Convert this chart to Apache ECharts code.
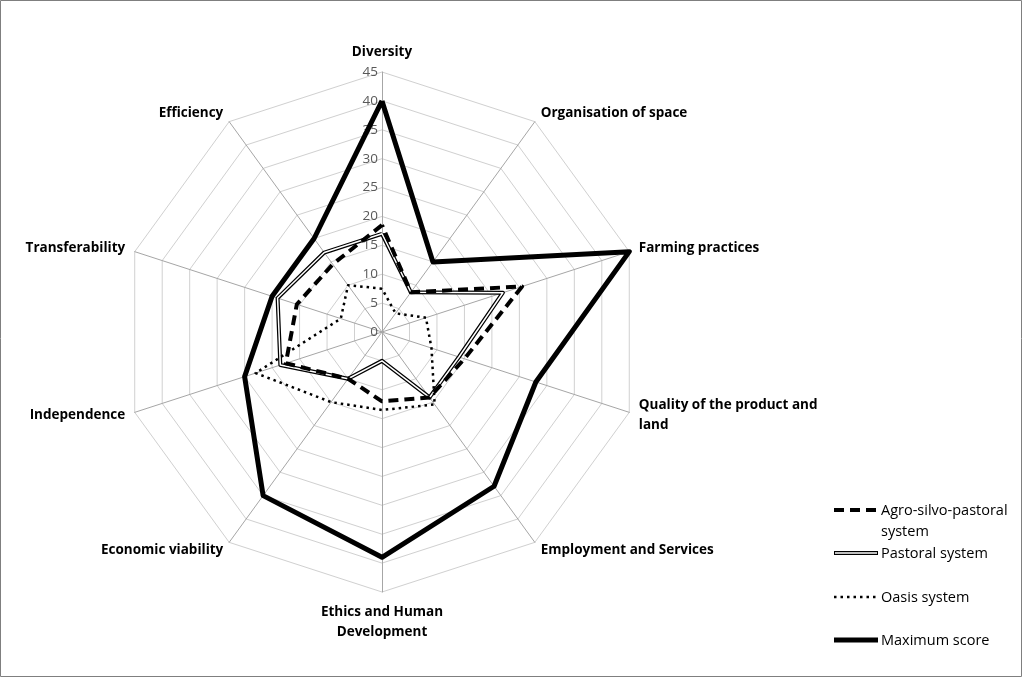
<!DOCTYPE html>
<html>
<head>
<meta charset="utf-8">
<script src="https://cdn.jsdelivr.net/npm/echarts@6/dist/echarts.min.js"></script>
<style>
  html, body { margin: 0; padding: 0; background: #fff; }
  #chart { width: 1023px; height: 678px; }
</style>
</head>
<body>
<div id="chart"></div>
<script>
// axes, clockwise from the top
const indicators = [
    'Diversity',
    'Organisation of space',
    'Farming practices',
    'Quality of the product and\nland',
    'Employment and Services',
    'Ethics and Human\nDevelopment',
    'Economic viability',
    'Independence',
    'Transferability',
    'Efficiency'
]
const axisMax = 45
const seriesNames = ['Agro-silvo-pastoral\nsystem', 'Pastoral system', 'Oasis system', 'Maximum score']

const agroSilvoPastoral = [18.5, 8.5, 25.5, 15, 14, 12, 10, 17.5, 15.5, 14.5]
const pastoral = [17, 8.5, 22, 14, 14, 5, 10, 18.5, 19, 17]
const oasis = [7.5, 4, 8, 9, 15.5, 13.5, 15, 23, 7.5, 10]
const maximumScore = [40, 15, 45, 28, 33, 39, 35, 25, 20, 20]

// echarts lays radar axes out anticlockwise, so keep the first and flip the rest
const cw = arr => [arr[0]].concat(arr.slice(1).reverse())

const chart = echarts.init(document.getElementById('chart'))
const font = '"Open Sans", "Liberation Sans", sans-serif'

const line = (name, data, style, z) => ({
    type: 'radar',
    name: name,
    z: z,
    symbol: 'none',
    silent: true,
    lineStyle: style,
    data: [{ value: cw(data), name: name }]
})

// legend drawn by hand so the dashed / double line samples look right
const legendRows = [
    { y: 510, style: { stroke: '#000', lineWidth: 4, lineDash: [10, 6] } },
    { y: 553, style: { stroke: '#000', lineWidth: 4 }, inner: true },
    { y: 597, style: { stroke: '#000', lineWidth: 2.5, lineDash: [2.5, 4] } },
    { y: 640, style: { stroke: '#000', lineWidth: 5 } }
]
const legendGraphics = []
legendRows.forEach((row, i) => {
    legendGraphics.push({
        type: 'line', shape: { x1: 834, y1: row.y, x2: 878, y2: row.y }, style: row.style
    })
    if (row.inner) {
        legendGraphics.push({
            type: 'line', shape: { x1: 835, y1: row.y, x2: 877, y2: row.y },
            style: { stroke: '#fff', lineWidth: 1.5 }
        })
    }
    legendGraphics.push({
        type: 'text', x: 881, y: row.y - 10,
        style: { text: seriesNames[i], font: '14.5px ' + font, fill: '#000', lineHeight: 21 }
    })
})

const option = {
    backgroundColor: '#fff',
    animation: false,
    radar: {
        center: [382, 332],
        radius: 260,
        shape: 'polygon',
        splitNumber: 9,
        startAngle: 90,
        nameGap: 10,
        indicator: cw(indicators).map((name, i) => ({
            name: name,
            min: 0,
            max: axisMax,
            axisLabel: { show: i === 0 }
        })),
        axisName: {
            color: '#000',
            fontFamily: font,
            fontWeight: 'bold',
            fontSize: 13.5,
            lineHeight: 20
        },
        axisLine: { lineStyle: { color: '#a6a6a6', width: 1 } },
        splitLine: { lineStyle: { color: '#d0d0d0', width: 1 } },
        splitArea: { show: false },
        axisTick: { show: false },
        axisLabel: {
            show: true,
            color: '#595959',
            fontFamily: font,
            fontSize: 13.5,
            margin: 4
        }
    },
    series: [
        line(seriesNames[1], pastoral, { color: '#000', width: 4 }, 2),
        line('pastoral-inner', pastoral, { color: '#fff', width: 1.5 }, 3),
        line(seriesNames[2], oasis, { color: '#000', width: 2.5, type: [2.5, 4] }, 4),
        line(seriesNames[0], agroSilvoPastoral, { color: '#000', width: 4, type: [10, 6] }, 5),
        line(seriesNames[3], maximumScore, { color: '#000', width: 5 }, 6)
    ],
    graphic: [
        {
            type: 'rect', shape: { x: 0.5, y: 0.5, width: 1021, height: 676 },
            style: { fill: 'none', stroke: '#7f7f7f', lineWidth: 1 }
        }
    ].concat(legendGraphics)
}

chart.setOption(option)
</script>
</body>
</html>
